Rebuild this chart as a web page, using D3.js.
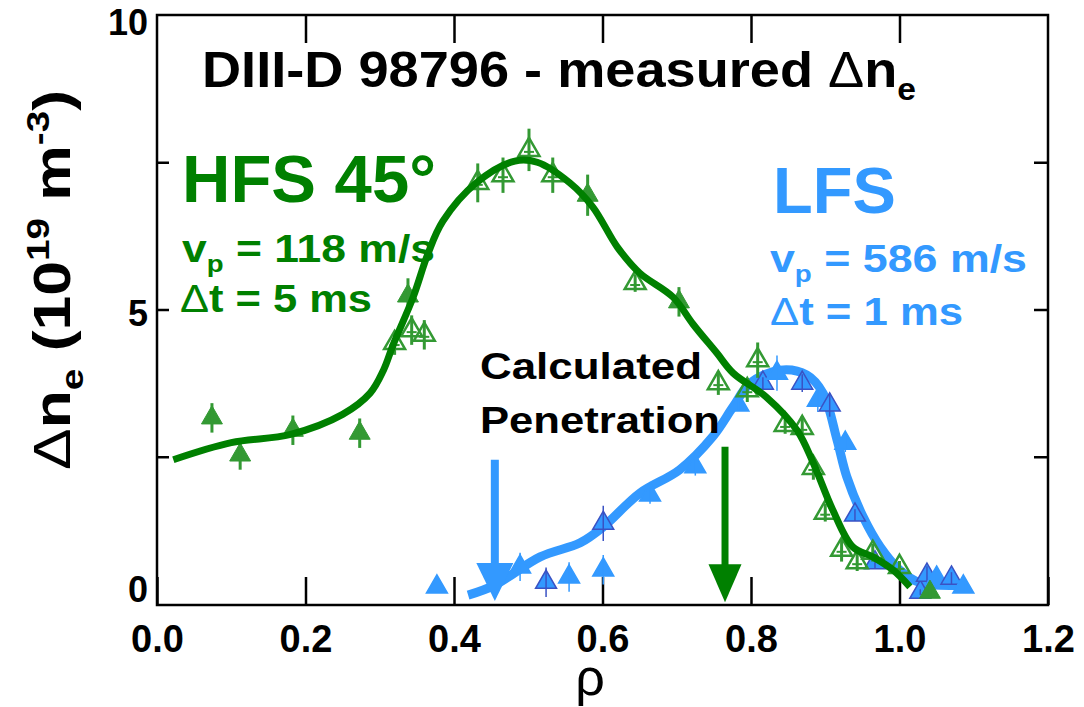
<!DOCTYPE html>
<html>
<head>
<meta charset="utf-8">
<script src="https://cdn.jsdelivr.net/npm/d3@7"></script>
<style>
body { margin: 0; background: #fff; }
text { font-family: "Liberation Sans", Arial, Helvetica, sans-serif; }
</style>
</head>
<body>
<div id="chart"></div>
<script>
// HFS 45 deg points (rho, delta n_e in 1e19 m^-3, error half length, open marker?)
var hfsRho = [0.074, 0.112, 0.183, 0.273, 0.320, 0.338, 0.343, 0.360, 0.432, 0.466, 0.501, 0.533, 0.580,
              0.644, 0.703, 0.756, 0.795, 0.809, 0.846, 0.869, 0.884, 0.900, 0.922, 0.943, 0.964, 1.000, 1.041];
var hfsVal = [3.16, 2.53, 2.95, 2.90, 4.43, 5.23, 4.65, 4.57, 7.15, 7.28, 7.71, 7.28, 6.94,
              5.45, 5.13, 3.75, 3.63, 4.14, 3.04, 2.99, 2.31, 1.55, 0.92, 0.71, 0.87, 0.63, 0.20];
var hfsErr = [0.25, 0.25, 0.25, 0.25, 0.20, 0.30, 0.25, 0.25, 0.33, 0.30, 0.36, 0.30, 0.35,
              0.15, 0.25, 0.20, 0.20, 0.30, 0.15, 0.20, 0.20, 0.15, 0.20, 0.15, 0.15, 0.10, 0.10];
var hfsOpen = [0, 0, 0, 0, 1, 0, 1, 1, 1, 1, 1, 1, 0,
               1, 0, 1, 1, 1, 1, 1, 1, 1, 1, 1, 1, 1, 0];

// LFS points (dark = outlined in darker blue)
var lfsRho = [0.377, 0.489, 0.524, 0.555, 0.601, 0.601, 0.664, 0.725, 0.783, 0.816, 0.835,
              0.869, 0.890, 0.906, 0.927, 0.940, 0.967, 1.028, 1.037, 1.050, 1.070, 1.086];
var lfsVal = [0.29, 0.63, 0.37, 0.46, 0.58, 1.37, 1.85, 2.33, 3.38, 3.75, 3.92,
              3.75, 3.46, 3.38, 2.73, 1.51, 0.70, 0.20, 0.49, 0.44, 0.44, 0.29];
var lfsErr = [0.00, 0.24, 0.25, 0.25, 0.25, 0.30, 0.15, 0.15, 0.10, 0.10, 0.30,
              0.15, 0.20, 0.20, 0.15, 0.10, 0.10, 0.05, 0.15, 0.15, 0.10, 0.10];
var lfsDark = [0, 0, 1, 0, 0, 1, 0, 0, 0, 1, 0,
               1, 0, 1, 0, 1, 1, 1, 1, 0, 1, 0];

// smooth fits drawn through the data
var hfsFitRho = [0.022, 0.10, 0.18, 0.25, 0.287, 0.305, 0.318, 0.345, 0.365, 0.385, 0.43, 0.482, 0.512,
                 0.556, 0.587, 0.62, 0.65, 0.695, 0.722, 0.754, 0.776, 0.821, 0.862, 0.884, 0.91,
                 0.937, 0.964, 0.991, 1.014];
var hfsFitVal = [2.45, 2.74, 2.88, 3.22, 3.58, 3.97, 4.40, 5.21, 5.95, 6.50, 7.15, 7.52, 7.50,
                 7.15, 6.74, 6.06, 5.62, 5.21, 4.75, 4.26, 3.92, 3.51, 2.95, 2.39, 1.60,
                 0.97, 0.80, 0.58, 0.29];
var lfsFitRho = [0.419, 0.455, 0.516, 0.57, 0.601, 0.65, 0.704, 0.749, 0.776, 0.799, 0.839, 0.875,
                 0.897, 0.916, 0.929, 0.951, 0.974, 1.0, 1.028, 1.09];
var lfsFitVal = [0.15, 0.32, 0.80, 1.04, 1.31, 1.88, 2.28, 2.85, 3.35, 3.75, 3.97, 3.89,
                 3.58, 2.78, 2.16, 1.48, 0.97, 0.58, 0.36, 0.32];

// calculated penetration arrows
var arrowRho = [0.455, 0.765];
var arrowTop = [2.45, 2.67];
var arrowTip = [0.05, 0.03];

var xTicks = [0, 0.2, 0.4, 0.6, 0.8, 1.0, 1.2];
var yTicks = [2.5, 5, 7.5];
var yLabels = [0, 5, 10];

var green = "#008000", greenPt = "#339933", blue = "#3399ff", darkBlue = "#3a52c4";

var margin = {top: 15, right: 36, bottom: 102, left: 157};
var width = 1084 - margin.left - margin.right;
var height = 707 - margin.top - margin.bottom;

var svg = d3.select("#chart").append("svg")
    .attr("width", 1084)
    .attr("height", 707);
var g = svg.append("g")
    .attr("transform", "translate(" + margin.left + "," + margin.top + ")");

var x = d3.scaleLinear().domain([0, 1.2]).range([0, width]);
var y = d3.scaleLinear().domain([0, 10]).range([height - 1, 0]);

// axes, ticks pointing inward
function styleAxis(a) {
  a.select(".domain").remove();
  a.selectAll(".tick line").attr("stroke", "#000").attr("stroke-width", 2.5);
}
var xb = g.append("g").attr("transform", "translate(0," + height + ")")
    .call(d3.axisBottom(x).tickValues(xTicks).tickSizeInner(-28).tickSizeOuter(0)
      .tickPadding(20).tickFormat(d3.format(".1f")));
styleAxis(xb);
xb.selectAll("text").attr("font-size", 38).attr("font-weight", "bold").attr("fill", "#000")
  .attr("font-family", "Liberation Sans, Arial, sans-serif");

var xt = g.append("g")
    .call(d3.axisTop(x).tickValues(xTicks.slice(1, 6)).tickSizeInner(-28).tickSizeOuter(0).tickFormat(""));
styleAxis(xt);
var yl = g.append("g")
    .call(d3.axisLeft(y).tickValues(yTicks).tickSizeInner(-12).tickSizeOuter(0).tickFormat(""));
styleAxis(yl);
var yr = g.append("g").attr("transform", "translate(" + width + ",0)")
    .call(d3.axisRight(y).tickValues(yTicks).tickSizeInner(-14).tickSizeOuter(0).tickFormat(""));
styleAxis(yr);

g.append("rect")
  .attr("width", width).attr("height", height)
  .attr("fill", "none").attr("stroke", "#000").attr("stroke-width", 2.5);

g.selectAll(".ylab")
  .data(yLabels)
  .enter()
  .append("text")
  .attr("class", "ylab")
  .attr("x", -9)
  .attr("y", function(d) { return y(d); })
  .attr("dy", function(d) { return d == 0 ? -2 : (d == 10 ? 20 : 16); })
  .attr("text-anchor", "end")
  .attr("font-size", 36)
  .attr("font-weight", "bold")
  .text(function(d) { return d; });

// fit curves
var line = d3.line()
  .x(function(d) { return x(d[0]); })
  .y(function(d) { return y(d[1]); })
  .curve(d3.curveCatmullRom.alpha(0.5));

g.append("path")
  .datum(d3.zip(lfsFitRho, lfsFitVal))
  .attr("d", line)
  .attr("fill", "none").attr("stroke", blue).attr("stroke-width", 9)
  .attr("stroke-linecap", "butt").attr("stroke-linejoin", "round");

var tri = d3.symbol().type(d3.symbolTriangle).size(190);

// LFS markers
var lfs = lfsRho.map(function(r, i) { return {rho: r, val: lfsVal[i], err: lfsErr[i], dark: lfsDark[i]}; });
var lp = g.selectAll(".lfs").data(lfs).enter().append("g").attr("class", "lfs");
lp.append("path")
  .attr("d", tri)
  .attr("transform", function(d) { return "translate(" + x(d.rho) + "," + y(d.val) + ")"; })
  .attr("fill", blue)
  .attr("stroke", function(d) { return d.dark ? darkBlue : blue; })
  .attr("stroke-width", 1.5);
lp.filter(function(d) { return d.err > 0; }).append("line")
  .attr("x1", function(d) { return x(d.rho); })
  .attr("x2", function(d) { return x(d.rho); })
  .attr("y1", function(d) { return y(d.val - d.err); })
  .attr("y2", function(d) { return y(d.val + d.err); })
  .attr("stroke", function(d) { return d.dark ? darkBlue : blue; })
  .attr("stroke-width", 1.5);

// HFS markers
var hfs = hfsRho.map(function(r, i) { return {rho: r, val: hfsVal[i], err: hfsErr[i], open: hfsOpen[i]}; });
var hp = g.selectAll(".hfs").data(hfs).enter().append("g").attr("class", "hfs");
hp.append("path")
  .attr("d", tri)
  .attr("transform", function(d) { return "translate(" + x(d.rho) + "," + y(d.val) + ")"; })
  .attr("fill", function(d) { return d.open ? "none" : greenPt; })
  .attr("stroke", greenPt)
  .attr("stroke-width", function(d) { return d.open ? 2.5 : 1; });
hp.append("line")
  .attr("x1", function(d) { return x(d.rho); })
  .attr("x2", function(d) { return x(d.rho); })
  .attr("y1", function(d) { return y(d.val - d.err); })
  .attr("y2", function(d) { return y(d.val + d.err); })
  .attr("stroke", greenPt)
  .attr("stroke-width", 3);
hp.filter(function(d) { return d.open; }).append("line")
  .attr("x1", function(d) { return x(d.rho) - 5; })
  .attr("x2", function(d) { return x(d.rho) + 5; })
  .attr("y1", function(d) { return y(d.val) + 2; })
  .attr("y2", function(d) { return y(d.val) + 2; })
  .attr("stroke", greenPt)
  .attr("stroke-width", 2);

g.append("path")
  .datum(d3.zip(hfsFitRho, hfsFitVal))
  .attr("d", line)
  .attr("fill", "none").attr("stroke", green).attr("stroke-width", 7)
  .attr("stroke-linecap", "butt").attr("stroke-linejoin", "round");

// penetration arrows
var arrowColor = [blue, green];
var arrowW = [37, 33];
var arrowShaft = [8, 7];
arrowRho.forEach(function(r, i) {
  var ax = x(r), yTip = y(arrowTip[i]), headH = 38;
  g.append("line")
    .attr("x1", ax).attr("x2", ax)
    .attr("y1", y(arrowTop[i])).attr("y2", yTip - headH + 2)
    .attr("stroke", arrowColor[i]).attr("stroke-width", arrowShaft[i]);
  g.append("path")
    .attr("d", "M" + (ax - arrowW[i] / 2) + "," + (yTip - headH) + "L" + (ax + arrowW[i] / 2) + "," + (yTip - headH) + "L" + ax + "," + yTip + "Z")
    .attr("fill", arrowColor[i]);
});

// text helper: parts are [string, kind] with kind "", "sub", "sup" or "thin"
function richText(parent, tx, ty, size, parts, len, color, anchor) {
  var t = parent.append("text")
    .attr("x", tx).attr("y", ty)
    .attr("font-size", size).attr("font-weight", "bold")
    .attr("fill", color || "#000");
  if (anchor) t.attr("text-anchor", anchor);
  if (len) t.attr("textLength", len).attr("lengthAdjust", "spacingAndGlyphs");
  var shift = 0;
  parts.forEach(function(p) {
    var s = t.append("tspan").text(p[0]);
    var target = 0;
    if (p[1] == "sub") { s.attr("font-size", size * 0.62); target = size * 0.25; }
    if (p[1] == "sup") { s.attr("font-size", size * 0.62); target = -size * 0.4; }
    if (p[1] == "thin") s.attr("font-weight", "normal");
    if (target != shift) { s.attr("dy", target - shift); shift = target; }
  });
  return t;
}

richText(svg, 202, 87, 50, [["DIII-D 98796 - measured ", ""], ["\u0394", "thin"], ["n", ""], ["e", "sub"]], 714);

richText(svg, 182, 202, 67, [["HFS 45\u00b0", ""]], null, green);
richText(svg, 182, 262, 38, [["v", ""], ["p", "sub"], [" = 118 m/s", ""]], 253, green);
richText(svg, 180, 312, 38, [["\u0394", "thin"], ["t = 5 ms", ""]], 192, green);

richText(svg, 773, 213, 65, [["LFS", ""]], null, blue);
richText(svg, 770, 272, 38, [["v", ""], ["p", "sub"], [" = 586 m/s", ""]], 257, blue);
richText(svg, 770, 325, 38, [["\u0394", "thin"], ["t = 1 ms", ""]], 193, blue);

richText(svg, 480, 379, 37, [["Calculated", ""]], 222);
richText(svg, 480, 433, 37, [["Penetration", ""]], 240);

// axis titles
var ylab = svg.append("g").attr("transform", "translate(70,280) rotate(-90)");
richText(ylab, 0, 0, 52, [["\u0394", "thin"], ["n", ""], ["e", "sub"], [" (10", ""], ["19", "sup"], [" m", ""], ["-3", "sup"], [")", ""]], 380, "#000", "middle");

svg.append("text")
  .attr("x", 590).attr("y", 695)
  .attr("text-anchor", "middle")
  .attr("font-size", 52)
  .text("\u03c1");
</script>
</body>
</html>
